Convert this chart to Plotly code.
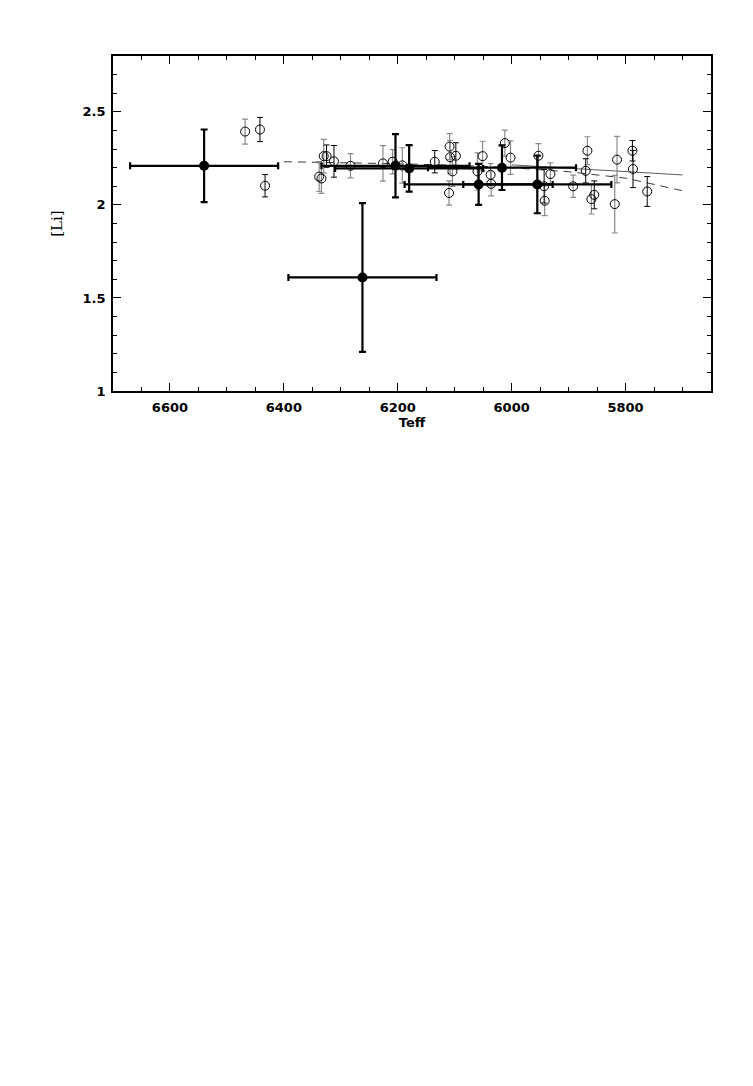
#%%
# Li abundance vs Teff
import plotly.graph_objects as go

# %%
# open circles, grey error bars
teff_grey = [6468, 6330, 6338, 6334, 6283, 6226, 6209, 6192, 6109, 6108, 6104, 6110,
             6060, 6051, 6037, 6036, 6012, 6002, 5953, 5942, 5932, 5892, 5867, 5860,
             5815, 5819]
li_grey = [2.394, 2.262, 2.152, 2.142, 2.21, 2.223, 2.232, 2.212, 2.313, 2.256, 2.18, 2.064,
           2.18, 2.262, 2.162, 2.113, 2.332, 2.254, 2.264, 2.022, 2.166, 2.10, 2.291, 2.031,
           2.243, 2.004]
err_grey = [0.067, 0.09, 0.08, 0.08, 0.065, 0.095, 0.065, 0.095, 0.07, 0.09, 0.08, 0.065,
            0.10, 0.08, 0.06, 0.065, 0.07, 0.09, 0.065, 0.08, 0.06, 0.06, 0.075, 0.08,
            0.125, 0.155]

# open circles, black error bars
teff_blk = [6442, 6433, 6325, 6312, 6135, 6098, 5943, 5870, 5855, 5788, 5787, 5762]
li_blk = [2.405, 2.103, 2.262, 2.234, 2.232, 2.264, 2.10, 2.183, 2.054, 2.291, 2.193, 2.072]
err_blk = [0.065, 0.06, 0.06, 0.085, 0.06, 0.07, 0.09, 0.065, 0.075, 0.055, 0.10, 0.08]

# filled points (mean values)
teff_mean = [6540, 6262, 6204, 6180, 6058, 6017, 5955]
li_mean = [2.21, 1.61, 2.21, 2.196, 2.11, 2.20, 2.11]
teff_err = [130, 130, 130, 130, 130, 130, 130]
li_err = [0.195, 0.40, 0.17, 0.125, 0.11, 0.12, 0.155]

# model curves
teff_dash = [6400, 6300, 6200, 6100, 6000, 5900, 5800, 5700]
li_dash = [2.232, 2.228, 2.221, 2.213, 2.200, 2.178, 2.144, 2.076]
teff_solid = [6000, 5900, 5800, 5700]
li_solid = [2.215, 2.197, 2.179, 2.161]

# %%
fig = go.Figure()

fig.add_trace(go.Scatter(x=teff_dash, y=li_dash, mode="lines",
                         line=dict(color="#222222", width=0.9, dash="8px,6px")))
fig.add_trace(go.Scatter(x=teff_solid, y=li_solid, mode="lines",
                         line=dict(color="#333333", width=0.8)))

fig.add_trace(go.Scatter(
    x=teff_grey, y=li_grey, mode="markers",
    marker=dict(symbol="circle-open", size=9, color="black", line=dict(width=1)),
    error_y=dict(type="data", array=err_grey, color="#8a8a8a", thickness=1.2, width=3),
))
fig.add_trace(go.Scatter(
    x=teff_blk, y=li_blk, mode="markers",
    marker=dict(symbol="circle-open", size=9, color="black", line=dict(width=1)),
    error_y=dict(type="data", array=err_blk, color="black", thickness=1, width=3),
))
fig.add_trace(go.Scatter(
    x=teff_mean, y=li_mean, mode="markers",
    marker=dict(symbol="circle", size=10, color="black"),
    error_x=dict(type="data", array=teff_err, color="black", thickness=2.2, width=3.5),
    error_y=dict(type="data", array=li_err, color="black", thickness=2.2, width=3.5),
))

axis_common = dict(
    showline=True, linecolor="black", linewidth=1.6, mirror="allticks",
    ticks="inside", ticklen=8, tickwidth=1.3, tickcolor="black",
    showgrid=False, zeroline=False,
    tickfont=dict(family="DejaVu Sans", size=13, color="black", weight="bold"),
)

fig.update_xaxes(range=[6700, 5650], dtick=200, tick0=5800, ticklabelstandoff=4,
                 minor=dict(dtick=50, ticks="inside", ticklen=4, tickwidth=1.3, tickcolor="black"),
                 title=dict(text="Teff", standoff=2,
                            font=dict(family="DejaVu Sans", size=13, color="black", weight="bold")),
                 **axis_common)
fig.update_yaxes(range=[1, 2.8], dtick=0.5, tick0=1, ticklabelstandoff=3,
                 minor=dict(dtick=0.1, ticks="inside", ticklen=4, tickwidth=1.3, tickcolor="black"),
                 title=dict(text="[Li]", standoff=16,
                            font=dict(family="DejaVu Serif", size=15, color="black")),
                 **axis_common)

# page has an 8px body margin, so margins are shifted to land the frame
fig.update_layout(
    width=753, height=1086,
    margin=dict(l=105, r=50, t=48, b=703),
    paper_bgcolor="white", plot_bgcolor="white",
    showlegend=False,
)

fig.write_html("out.html")
